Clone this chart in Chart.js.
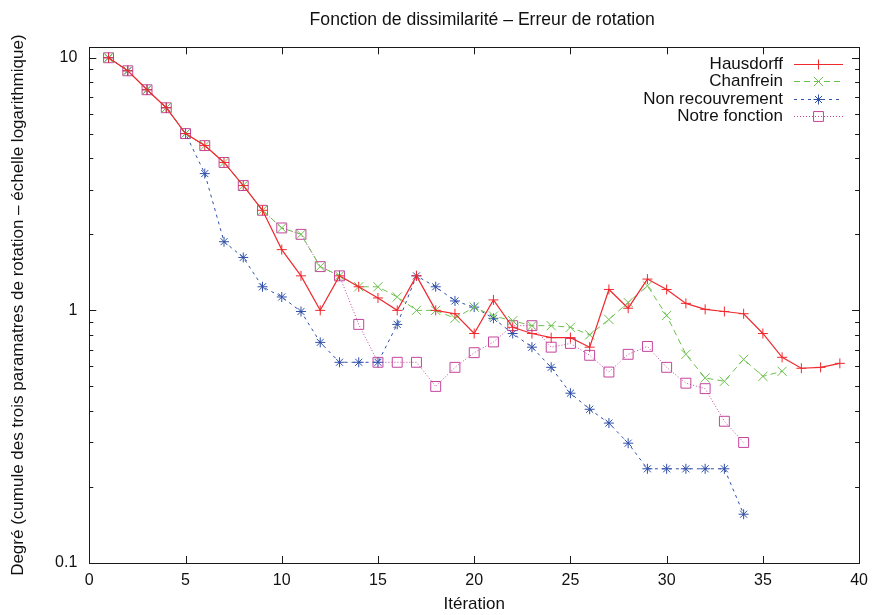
<!DOCTYPE html>
<html>
<head>
<meta charset="utf-8">
<script src="https://cdn.jsdelivr.net/npm/chart.js@4.4.1/dist/chart.umd.min.js"></script>
<style>
  html, body { margin: 0; padding: 0; background: #fff; }
  #wrap { width: 876px; height: 615px; }
</style>
</head>
<body>
<div id="wrap"><canvas id="myChart"></canvas></div>
<script>
const ctx = document.getElementById('myChart')

const iterations = [1, 2, 3, 4, 5, 6, 7, 8, 9, 10, 11, 12, 13, 14, 15, 16, 17, 18, 19, 20,
  21, 22, 23, 24, 25, 26, 27, 28, 29, 30, 31, 32, 33, 34, 35, 36, 37, 38, 39]

const hausdorff = [10, 8.88, 7.47, 6.34, 5.01, 4.49, 3.85, 3.12, 2.49, 1.74,
  1.37, 1.0, 1.37, 1.24, 1.12, 1.0, 1.37, 1.0, 0.97, 0.81,
  1.10, 0.857, 0.81, 0.78, 0.78, 0.715, 1.21, 1.02, 1.33, 1.21,
  1.066, 1.01, 0.99, 0.97, 0.81, 0.652, 0.59, 0.595, 0.617]

const chanfrein = [10, 8.88, 7.47, 6.34, 5.01, 4.49, 3.85, 3.12, 2.49, 2.12,
  2.0, 1.49, 1.37, 1.24, 1.24, 1.13, 1.0, 1.0, 0.93, 1.03,
  0.95, 0.91, 0.87, 0.87, 0.857, 0.80, 0.92, 1.075, 1.25, 0.955,
  0.67, 0.54, 0.524, 0.64, 0.548, 0.574]

const nonRecouvrement = [10, 8.88, 7.47, 6.34, 5.01, 3.48, 1.87, 1.62, 1.24, 1.13,
  0.99, 0.747, 0.623, 0.623, 0.623, 0.88, 1.37, 1.24, 1.09, 1.03,
  0.93, 0.81, 0.715, 0.595, 0.47, 0.406, 0.358, 0.298, 0.236, 0.236,
  0.236, 0.236, 0.236, 0.156]

const notreFonction = [10, 8.88, 7.47, 6.34, 5.01, 4.49, 3.85, 3.12, 2.49, 2.12,
  2.0, 1.49, 1.37, 0.88, 0.623, 0.623, 0.623, 0.50, 0.595, 0.68,
  0.75, 0.87, 0.87, 0.715, 0.74, 0.664, 0.57, 0.67, 0.72, 0.595,
  0.515, 0.49, 0.364, 0.30]

const xTicks = [0, 5, 10, 15, 20, 25, 30, 35, 40]
const yTicks = [0.1, 1, 10]

const chartTitle = 'Fonction de dissimilarité – Erreur de rotation'

const FONT = '"Liberation Sans", Arial, Helvetica, sans-serif'

function toPoints(values) {
  return values.map((v, i) => ({x: iterations[i], y: v}))
}

// gnuplot-like border with inward ticks on all four sides
const frame = {
  id: 'frame',
  beforeDatasetsDraw(chart) {
    const {ctx, chartArea: a, scales: {x, y}} = chart
    ctx.save()
    ctx.strokeStyle = '#1a1a1a'
    ctx.lineWidth = 1
    ctx.beginPath()
    xTicks.forEach(v => {
      const px = Math.round(x.getPixelForValue(v)) + 0.5
      ctx.moveTo(px, a.bottom); ctx.lineTo(px, a.bottom - 7)
      ctx.moveTo(px, a.top); ctx.lineTo(px, a.top + 7)
    })
    for (let d = -1; d <= 1; d++) {
      for (let m = 1; m <= 9; m++) {
        const v = m * Math.pow(10, d)
        if (v > y.max) break
        const len = m === 1 ? 7 : 4
        const py = Math.round(y.getPixelForValue(v)) + 0.5
        ctx.moveTo(a.left, py); ctx.lineTo(a.left + len, py)
        ctx.moveTo(a.right, py); ctx.lineTo(a.right - len, py)
      }
    }
    ctx.stroke()
    ctx.strokeRect(Math.round(a.left) + 0.5, Math.round(a.top) + 0.5,
      Math.round(a.right - a.left), Math.round(a.bottom - a.top))
    // title, centred over the plot box
    ctx.fillStyle = '#111'
    ctx.font = '17.6px ' + FONT
    ctx.textAlign = 'center'
    ctx.textBaseline = 'middle'
    ctx.fillText(chartTitle, (a.left + a.right) / 2 + 8, 20)
    ctx.restore()
  }
}

// legend in the top right corner, text right aligned, sample on the right
const keyBox = {
  id: 'keyBox',
  afterDraw(chart) {
    const {ctx} = chart
    ctx.save()
    ctx.font = '17px ' + FONT
    ctx.textAlign = 'right'
    ctx.textBaseline = 'middle'
    chart.data.datasets.forEach((ds, i) => {
      const yy = Math.round(64 + i * 17.3) + 0.5
      ctx.fillStyle = '#111'
      ctx.fillText(ds.label, 783, yy)
      ctx.strokeStyle = ds.borderColor
      ctx.lineWidth = ds.borderWidth
      ctx.setLineDash(ds.borderDash || [])
      ctx.beginPath()
      ctx.moveTo(794, yy); ctx.lineTo(843, yy)
      ctx.stroke()
      ctx.setLineDash([])
      ctx.lineWidth = 1
      ctx.fillStyle = 'rgba(0,0,0,0)'
      Chart.helpers.drawPoint(ctx, {pointStyle: ds.pointStyle, radius: ds.pointRadius, rotation: 0, borderWidth: 1}, 818.5, yy)
    })
    ctx.restore()
  }
}

const series = [
  {label: 'Hausdorff', data: toPoints(hausdorff), borderColor: '#ef2a2f', borderWidth: 1.2,
    pointStyle: 'cross', pointRadius: 5},
  {label: 'Chanfrein', data: toPoints(chanfrein), borderColor: '#6cc04e', borderWidth: 1,
    borderDash: [6, 4], pointStyle: 'crossRot', pointRadius: 6.5},
  {label: 'Non recouvrement', data: toPoints(nonRecouvrement), borderColor: '#3050aa', borderWidth: 1,
    borderDash: [3, 4], pointStyle: 'star', pointRadius: 5},
  {label: 'Notre fonction', data: toPoints(notreFonction), borderColor: '#c4459d', borderWidth: 1,
    borderDash: [1, 2], pointStyle: 'rect', pointRadius: 7}
]

series.forEach(s => {
  s.fill = false
  s.tension = 0
  s.pointBorderColor = s.borderColor
  s.pointBackgroundColor = 'rgba(0,0,0,0)'
  s.pointBorderWidth = 1
  s.pointHoverRadius = s.pointRadius
})

new Chart(ctx, {
  type: 'line',
  data: {datasets: series},
  plugins: [frame, keyBox],
  options: {
    responsive: true,
    maintainAspectRatio: false,
    animation: false,
    layout: {padding: {left: 0, right: 11.7, top: 47.3, bottom: 0}},
    plugins: {
      legend: {display: false},
      tooltip: {enabled: false},
      title: {display: false}
    },
    scales: {
      x: {
        type: 'linear',
        min: 0,
        max: 40,
        afterBuildTicks: s => { s.ticks = xTicks.map(v => ({value: v})) },
        afterFit: s => { s.height = 52 },
        grid: {display: false, drawTicks: false},
        border: {display: false},
        ticks: {color: '#111', font: {family: FONT, size: 16}, padding: 8, maxRotation: 0},
        title: {display: true, text: 'Itération', color: '#111',
          font: {family: FONT, size: 17}, padding: {top: 0, bottom: 0}}
      },
      y: {
        type: 'logarithmic',
        min: 0.1,
        max: 11,
        afterBuildTicks: s => { s.ticks = yTicks.map(v => ({value: v})) },
        afterFit: s => { s.width = 89.3 },
        grid: {display: false, drawTicks: false},
        border: {display: false},
        ticks: {color: '#111', font: {family: FONT, size: 16}, padding: 12,
          callback: v => String(v)},
        title: {display: true,
          text: 'Degré (cumule des trois paramatres de rotation – échelle logarithmique)',
          color: '#111', font: {family: FONT, size: 17}, padding: {top: 8, bottom: 0}}
      }
    }
  }
})
</script>
</body>
</html>
